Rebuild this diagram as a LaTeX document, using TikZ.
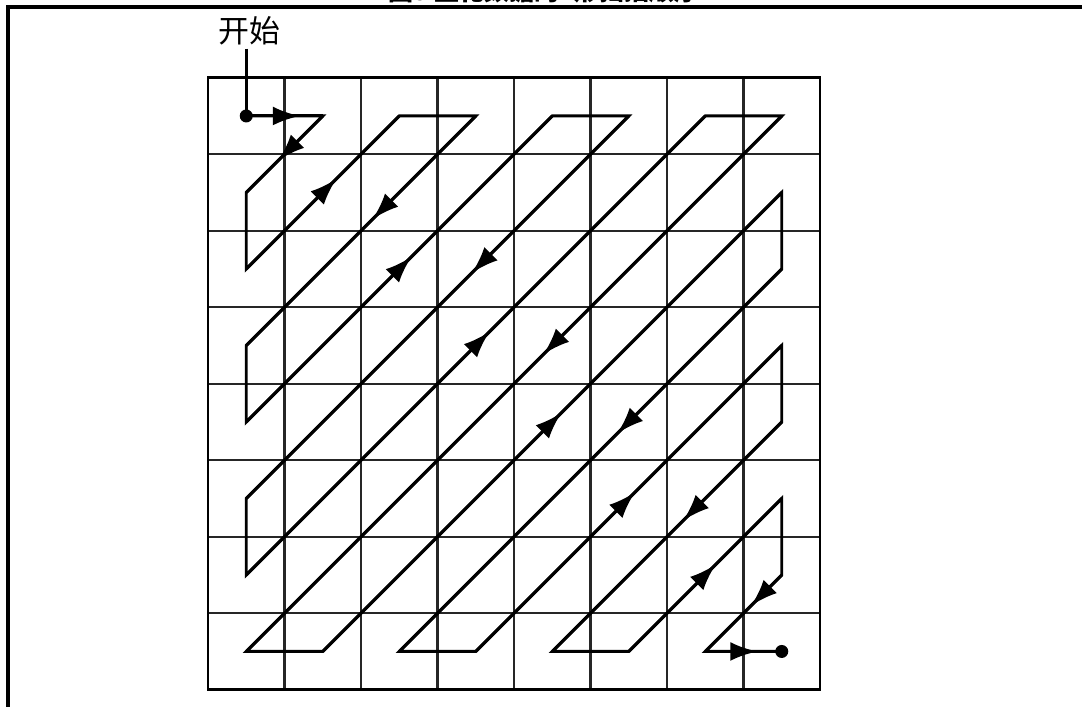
\documentclass[tikz,border=0pt]{standalone}
\usepackage{fontspec}
\newfontfamily\cjk{Noto Sans CJK SC}
\usetikzlibrary{arrows.meta,decorations.markings}
\tikzset{
  gridline/.style={draw=black!85, line width=0.9pt},
  scanline/.style={draw=black, line width=1.1pt, line join=miter},
  scanarrow/.style={postaction={decorate},
    decoration={markings, mark=at position #1 with {\arrow{Latex[length=10pt,width=7pt]}}}},
}

\begin{document}
\begin{tikzpicture}[x=1cm,y=1cm]
  \useasboundingbox (-2.719,-8.213) rectangle (11.425,1.016);

  % caption (cut off at the top) and frame
  \node[anchor=base, inner sep=0pt, font=\cjk\bfseries\fontsize{9.3}{11}\selectfont] (caption) at (4.39,1.003) {图5 量化数据的Z形扫描顺序};
  \draw[line width=1.2pt] (-2.614,-8.4) -- (-2.614,0.924) -- (11.6,0.924);

  % 8x8 grid
  \draw[gridline] (0,-8) grid (8,0);
  \draw[black, line width=1pt] (0,0) rectangle (8,-8);

  % cell centres
  \foreach \i in {0,...,7}
    \foreach \j in {0,...,7}
      \coordinate (c-\i-\j) at (\i+0.5,-\j-0.5);

  % start label and lead-in
  \node[font=\cjk\fontsize{11.5}{13}\selectfont, inner sep=1pt] (start) at (0.536,0.61) {开始};
  \draw[scanline] (start.south -| c-0-0) -- (c-0-0);

  % zig-zag scan
  \draw[scanline] (c-0-0) \foreach \p in {1-0,0-1,0-2,2-0,3-0,0-3,0-4,4-0,5-0,0-5,0-6,6-0,7-0,0-7,1-7,7-1,7-2,2-7,3-7,7-3,7-4,4-7,5-7,7-5,7-6,6-7,7-7} { -- (c-\p) };

  % arrow heads
  \foreach \a/\b/\pos in {0-0/1-0/0.7, 1-0/0-1/0.58, 0-2/2-0/0.59, 3-0/0-3/0.45, 0-4/4-0/0.54, 5-0/0-5/0.41, 0-6/6-0/0.53, 7-0/0-7/0.445, 1-7/7-1/0.52, 7-2/2-7/0.43, 3-7/7-3/0.52, 7-4/4-7/0.43, 5-7/7-5/0.57, 7-6/6-7/0.4, 6-7/7-7/0.68}
    \draw[scanline, scanarrow=\pos] (c-\a) -- (c-\b);

  % start and end dots
  \fill (c-0-0) circle (0.085);
  \fill (c-7-7) circle (0.085);
\end{tikzpicture}
\end{document}
